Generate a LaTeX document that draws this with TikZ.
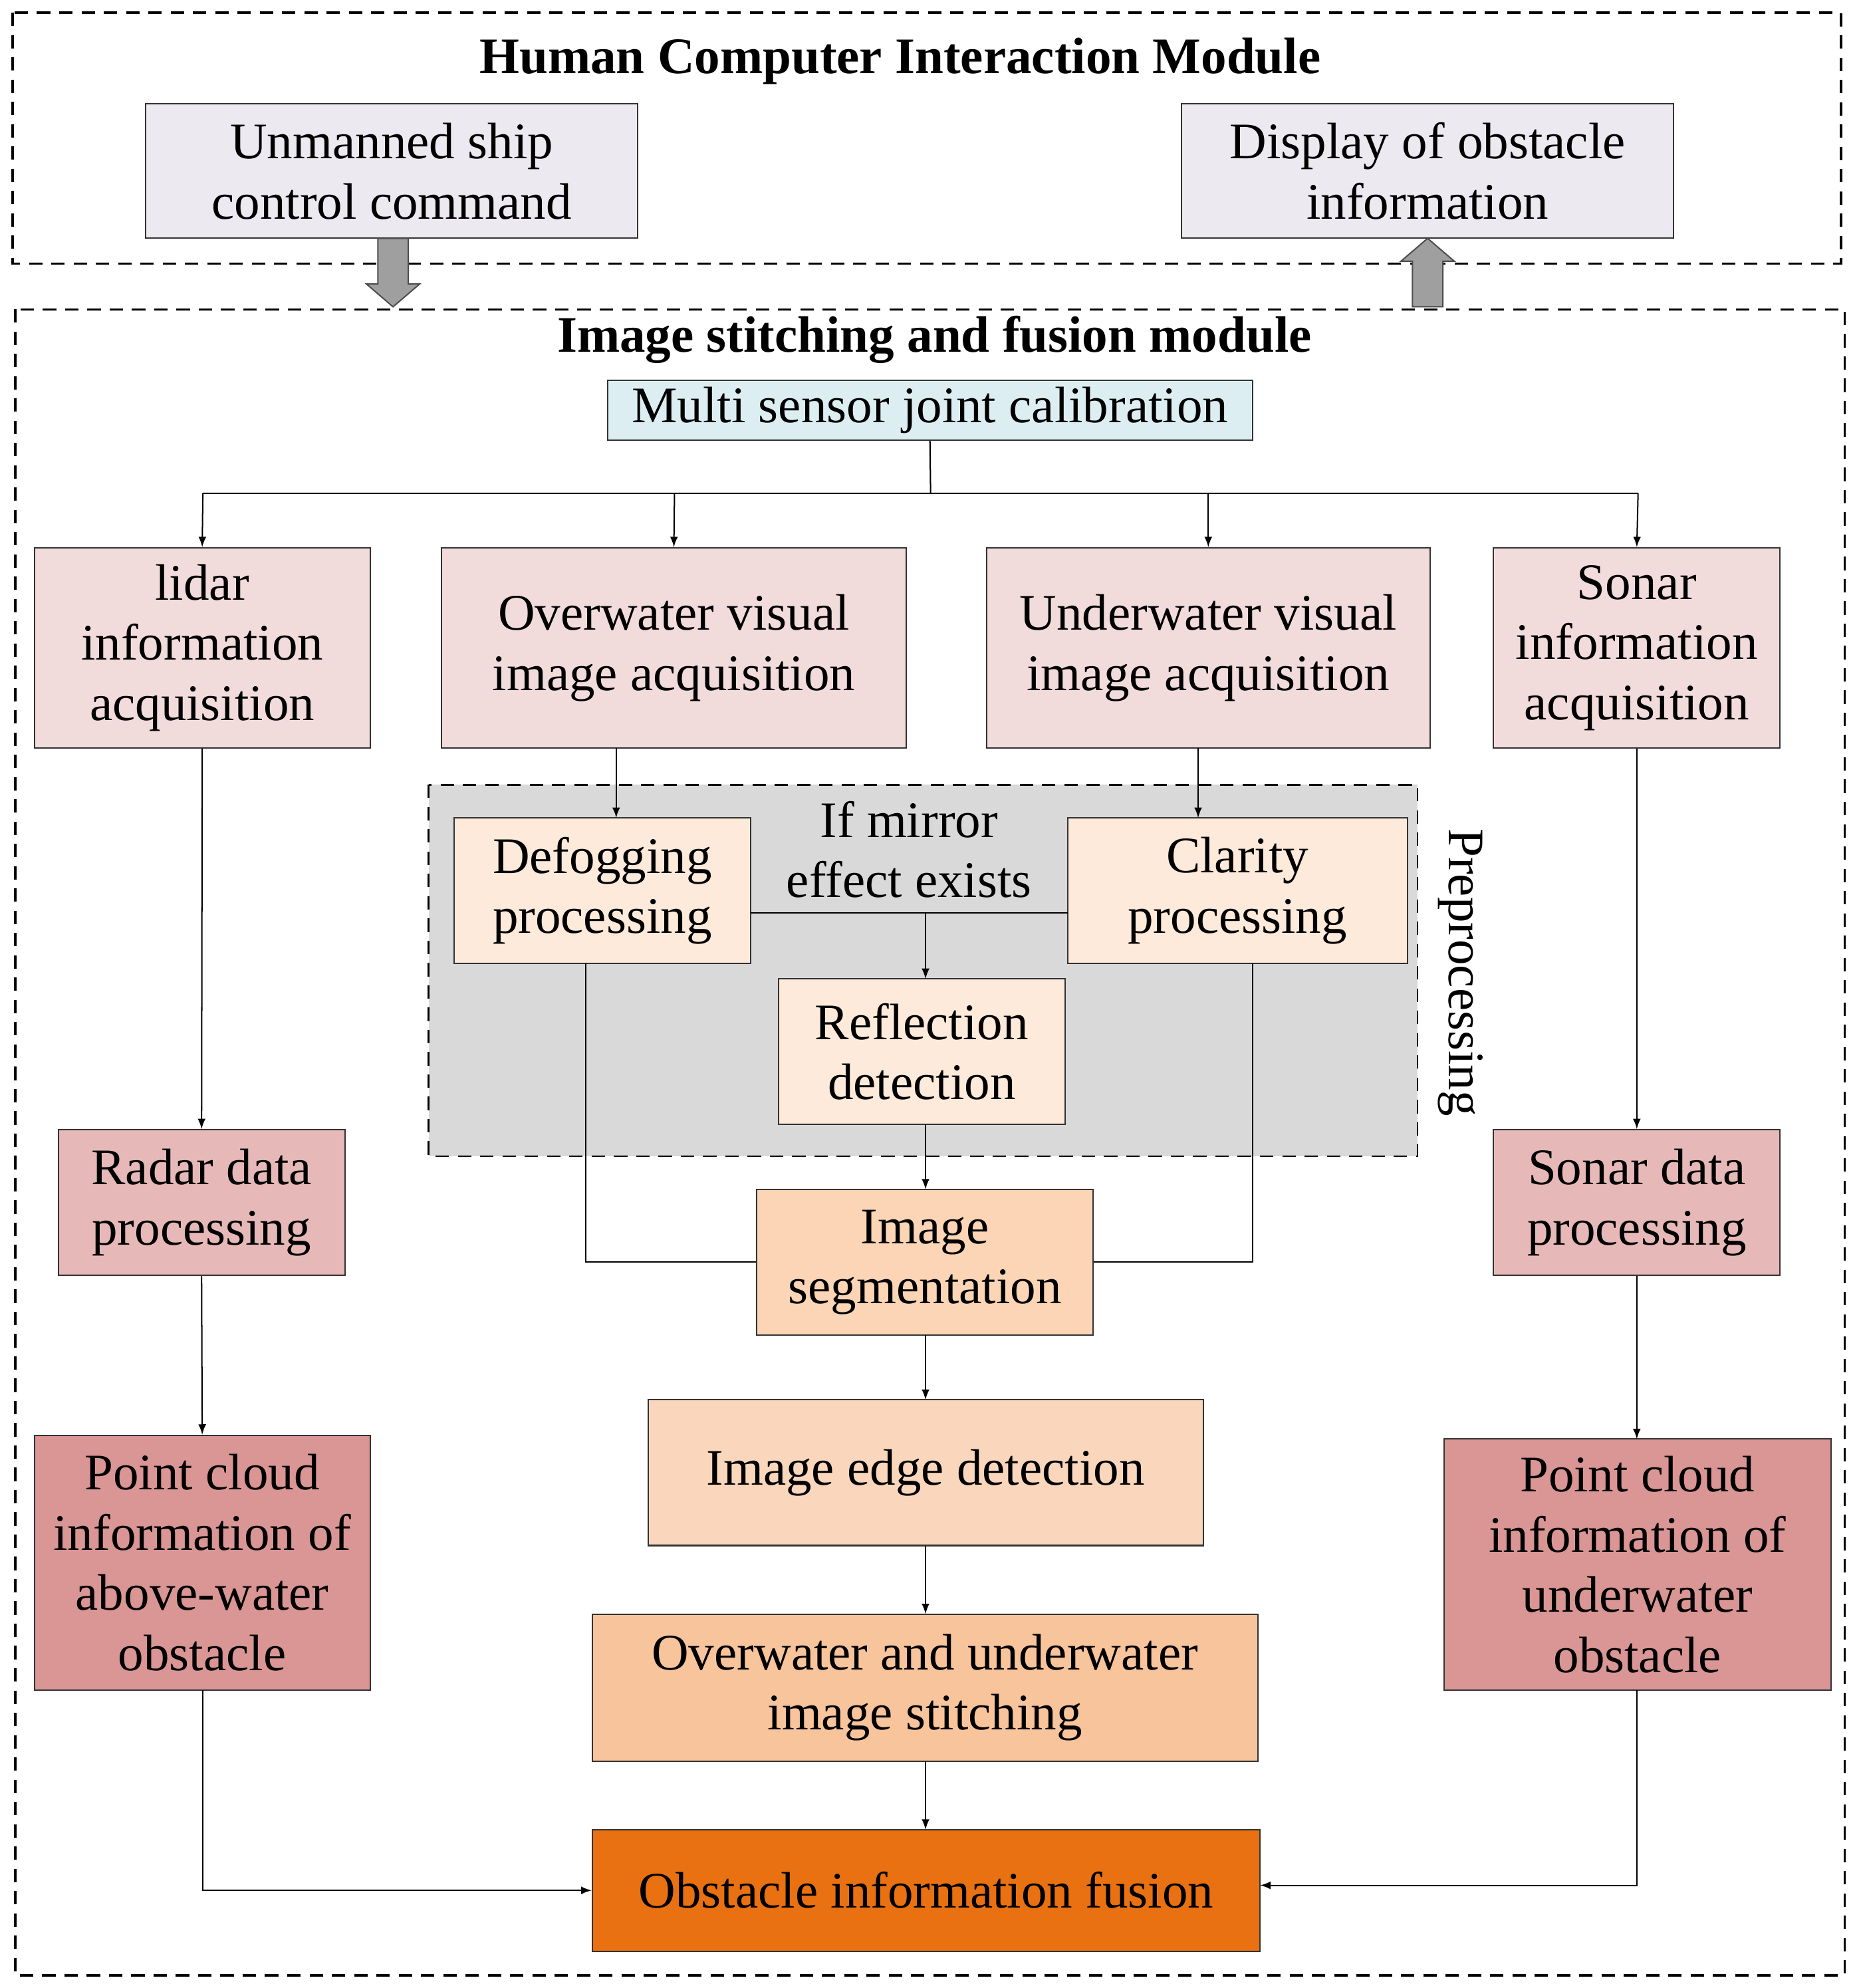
\documentclass[tikz,border=0pt]{standalone}
\usepackage{fontspec}
\setmainfont{Liberation Serif}
\begin{document}
\begin{tikzpicture}[x=0.02cm,y=-0.02cm,
  bx/.style={draw=black!80,line width=0.6pt,align=center,inner sep=0pt,font=\fontsize{23}{27}\selectfont},
  dbox/.style={draw=black,dashed,line width=1pt,dash pattern=on 6pt off 4pt},
  ar/.style={-latex,line width=0.6pt},
  ln/.style={line width=0.6pt}]
\useasboundingbox (0,0) rectangle (1466,1568);
\newcommand{\bxn}[6]{\node[bx,fill=#6,minimum width={(#4-#2)*0.02cm},minimum height={(#5-#3)*0.02cm}] (#1) at ({(#2+#4)/2},{(#3+#5)/2}) {};}
\definecolor{lav}{HTML}{ECE9F0}
\definecolor{cal}{HTML}{DDEEF3}
\definecolor{acq}{HTML}{F2DCDB}
\definecolor{pre}{HTML}{FDEADA}
\definecolor{seg}{HTML}{FBD5B5}
\definecolor{edg}{HTML}{FAD7BC}
\definecolor{sti}{HTML}{F8C49C}
\definecolor{fus}{HTML}{E97111}
\definecolor{rad}{HTML}{E6B9B8}
\definecolor{pcl}{HTML}{D99694}
% top module
\draw[dbox] (10,10) rectangle (1452,208);
\node[font=\fontsize{23}{27}\selectfont\bfseries] (t1) at (710,48) {Human Computer Interaction Module};
\node[bx,fill=lav,minimum width=7.76cm,minimum height=2.12cm] (cmd) at (309,135) {Unmanned ship\\control command};
\node[bx,fill=lav,minimum width=7.76cm,minimum height=2.12cm] (disp) at (1126,135) {Display of obstacle\\information};
% block arrows
\draw[fill=gray!75,draw=black!70,line width=0.6pt] (298,188)--(322,188)--(322,224)--(331,224)--(310,242)--(289,224)--(298,224)--cycle;
\draw[fill=gray!75,draw=black!70,line width=0.6pt] (1114,242)--(1138,242)--(1138,206)--(1147,206)--(1126,188)--(1105,206)--(1114,206)--cycle;
% bottom module
\draw[dbox] (12,244) rectangle (1455,1558);
\node[font=\fontsize{23}{27}\selectfont\bfseries] (t2) at (737,268) {Image stitching and fusion module};
\fill[gray!30] (338,619) rectangle (1118,912);
\draw[dbox,line width=0.8pt] (338,619) rectangle (1118,912);
\node[rotate=-90,font=\fontsize{23}{27}\selectfont] (pp) at (1152,767) {Preprocessing};
\node[bx,fill=cal,minimum width=10.18cm,minimum height=0.94cm] (cal) at (733.5,323.5) {Multi sensor joint calibration};
\node[bx,fill=acq,minimum width=5.3cm,minimum height=3.16cm] (lid) at (159.5,511) {lidar\\information\\acquisition};
\node[bx,fill=acq,minimum width=7.34cm,minimum height=3.16cm] (ovw) at (531.5,511) {Overwater visual\\image acquisition};
\node[bx,fill=acq,minimum width=7.0cm,minimum height=3.16cm] (unw) at (953,511) {Underwater visual\\image acquisition};
\node[bx,fill=acq,minimum width=4.52cm,minimum height=3.16cm] (son) at (1291,511) {Sonar\\information\\acquisition};
\node[bx,fill=pre,minimum width=4.68cm,minimum height=2.3cm] (def) at (475,702.5) {Defogging\\processing};
\node[bx,fill=pre,minimum width=5.36cm,minimum height=2.3cm] (cla) at (976,702.5) {Clarity\\processing};
\node[align=center,font=\fontsize{23}{27}\selectfont] (mir) at (717,670) {If mirror\\effect exists};
\node[bx,fill=pre,minimum width=4.52cm,minimum height=2.3cm] (ref) at (727,829.5) {Reflection\\detection};
\node[bx,fill=seg,minimum width=5.3cm,minimum height=2.3cm] (seg) at (729.5,995.5) {Image\\segmentation};
\node[bx,fill=edg,minimum width=8.76cm,minimum height=2.3cm] (edg) at (730,1161.5) {Image edge detection};
\node[bx,fill=sti,minimum width=10.5cm,minimum height=2.32cm] (sti) at (729.5,1331) {Overwater and underwater\\image stitching};
\node[bx,fill=fus,minimum width=10.54cm,minimum height=1.92cm] (fus) at (730.5,1491) {Obstacle information fusion};
\node[bx,fill=rad,minimum width=4.52cm,minimum height=2.3cm] (rad) at (159,948.5) {Radar data\\processing};
\node[bx,fill=pcl,minimum width=5.3cm,minimum height=4.02cm] (pca) at (159.5,1232.5) {Point cloud\\information of\\above-water\\obstacle};
\node[bx,fill=rad,minimum width=4.52cm,minimum height=2.3cm] (sdp) at (1291,948.5) {Sonar data\\processing};
\node[bx,fill=pcl,minimum width=6.1cm,minimum height=3.96cm] (pcu) at (1291.5,1234) {Point cloud\\information of\\underwater\\obstacle};
% connectors
\coordinate (br) at (734,389);
\draw[ln] (cal.south) -- (br);
\draw[ln] (160,389) -- (1292,389);
\draw[ar] (160,389) -- (lid.north);
\draw[ar] (532,389) -- (ovw.north);
\draw[ar] (953,389) -- (unw.north);
\draw[ar] (1292,389) -- (son.north);
\draw[ar] (486,590) -- (486,645);
\draw[ar] (945,590) -- (945,645);
\draw[ln] (592,720) -- (842,720);
\draw[ar] (730,720) -- (730,772);
\draw[ar] (730,887) -- (730,938);
\draw[ln] (462,760) |- (seg.west);
\draw[ln] (988,760) |- (seg.east);
\draw[ar] (730,1053) -- (730,1104);
\draw[ar] (730,1219) -- (730,1273);
\draw[ar] (730,1389) -- (730,1443);
\draw[ar] (lid.south) -- (rad.north);
\draw[ar] (rad.south) -- (pca.north);
\draw[ar] (160,1333) |- (fus.west);
\draw[ar] (son.south) -- (sdp.north);
\draw[ar] (sdp.south) -- (1291,1135);
\draw[ar] (1291,1333) |- (994,1487);
\end{tikzpicture}
\end{document}
